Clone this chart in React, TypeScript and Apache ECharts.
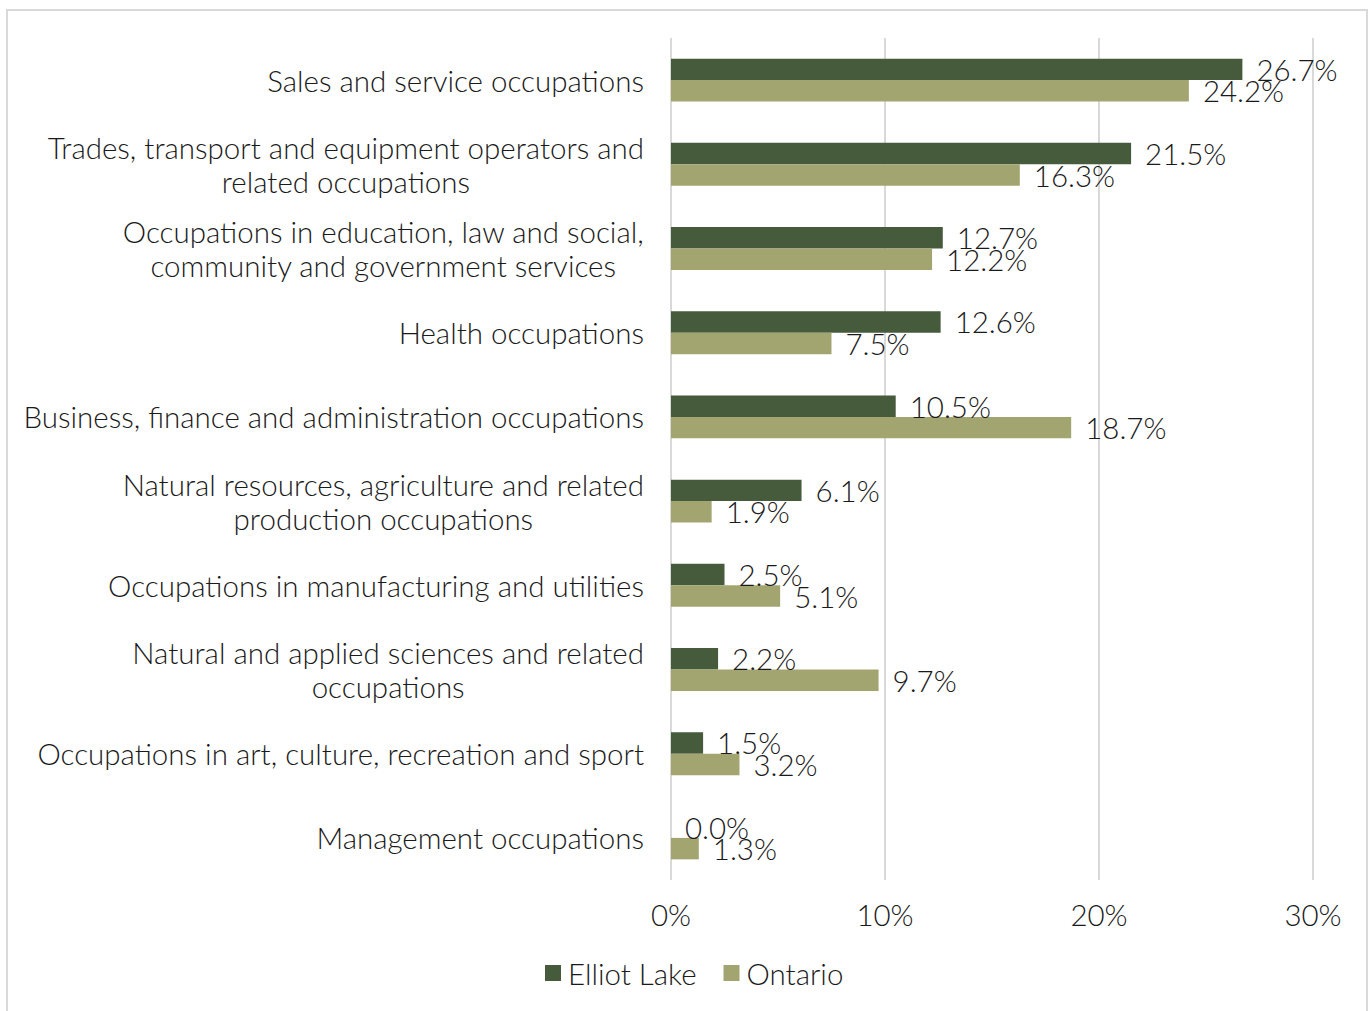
import React, { useEffect, useRef } from "react";
import * as echarts from "echarts";

const categories: string[] = [
  "Sales and service occupations",
  "Trades, transport and equipment operators and\nrelated occupations",
  "Occupations in education, law and social,\ncommunity and government services",
  "Health occupations",
  "Business, finance and administration occupations",
  "Natural resources, agriculture and related\nproduction occupations",
  "Occupations in manufacturing and utilities",
  "Natural and applied sciences and related\noccupations",
  "Occupations in art, culture, recreation and sport",
  "Management occupations",
];

const elliotLake: number[] = [26.7, 21.5, 12.7, 12.6, 10.5, 6.1, 2.5, 2.2, 1.5, 0.0];
const ontario: number[] = [24.2, 16.3, 12.2, 7.5, 18.7, 1.9, 5.1, 9.7, 3.2, 1.3];

const xTicks: number[] = [0, 10, 20, 30];

const FONT = "Lato";
const FS = 29.5;
const TEXT_COLOR = "#1a1a1a";
const DARK = "#465a3c";
const LIGHT = "#a3a571";

export default function App() {
  const ref = useRef<HTMLDivElement>(null);

  useEffect(() => {
    if (!ref.current) return;
    const chart = echarts.init(ref.current, undefined, { renderer: "svg" });
    const labelStyle = {
      show: true,
      position: "right",
      distance: 14,
      fontFamily: FONT,
      fontWeight: 300,
      fontSize: FS,
      color: TEXT_COLOR,
      formatter: (p: any) => Number(p.value).toFixed(1) + "%",
    };
    chart.setOption({
      animation: false,
      backgroundColor: "transparent",
      textStyle: { fontFamily: FONT },
      grid: { left: 671, right: 59, top: 38, bottom: 131, containLabel: false },
      legend: {
        top: 958,
        left: 545,
        padding: 0,
        itemWidth: 16,
        itemHeight: 16,
        itemGap: 27,
        icon: "rect",
        textStyle: { fontFamily: FONT, fontWeight: 300, fontSize: FS, color: TEXT_COLOR, padding: [0, 0, 0, 2] },
        data: ["Elliot Lake", "Ontario"],
      },
      xAxis: {
        type: "value",
        min: xTicks[0],
        max: xTicks[xTicks.length - 1],
        interval: 10,
        axisLine: { show: false },
        axisTick: { show: false },
        splitLine: { show: true, lineStyle: { color: "#d9d9d9", width: 2 } },
        axisLabel: {
          margin: 19,
          fontFamily: FONT,
          fontWeight: 300,
          fontSize: FS,
          color: TEXT_COLOR,
          formatter: (v: number) => v + "%",
        },
      },
      yAxis: {
        type: "category",
        inverse: true,
        data: categories,
        axisLine: { show: false },
        axisTick: { show: false },
        axisLabel: {
          margin: 27,
          fontFamily: FONT,
          fontWeight: 300,
          fontSize: FS,
          lineHeight: 34,
          color: TEXT_COLOR,
          formatter: (v: string) =>
            v
              .split("\n")
              .map((l) => "{c|" + l + "}")
              .join("\n"),
          rich: {
            c: {
              align: "center",
              fontFamily: FONT,
              fontWeight: 300,
              fontSize: FS,
              lineHeight: 34,
              color: TEXT_COLOR,
            },
          },
        },
      },
      series: [
        {
          name: "Elliot Lake",
          type: "bar",
          data: elliotLake,
          itemStyle: { color: DARK },
          barGap: "0%",
          barCategoryGap: "49%",
          label: labelStyle,
        },
        {
          name: "Ontario",
          type: "bar",
          data: ontario,
          itemStyle: { color: LIGHT },
          barGap: "0%",
          barCategoryGap: "49%",
          label: labelStyle,
        },
      ],
    });
    return () => chart.dispose();
  }, []);

  return (
    <div style={{ position: "fixed", left: 0, top: 0, width: 1372, height: 1011, background: "#fff", overflow: "hidden" }}>
      <div
        style={{
          position: "absolute",
          left: 6,
          top: 9,
          width: 1362,
          height: 1100,
          border: "2px solid #d9d9d9",
          boxSizing: "border-box",
        }}
      />
      <div ref={ref} style={{ position: "absolute", left: 0, top: 0, width: 1372, height: 1011 }} />
    </div>
  );
}
